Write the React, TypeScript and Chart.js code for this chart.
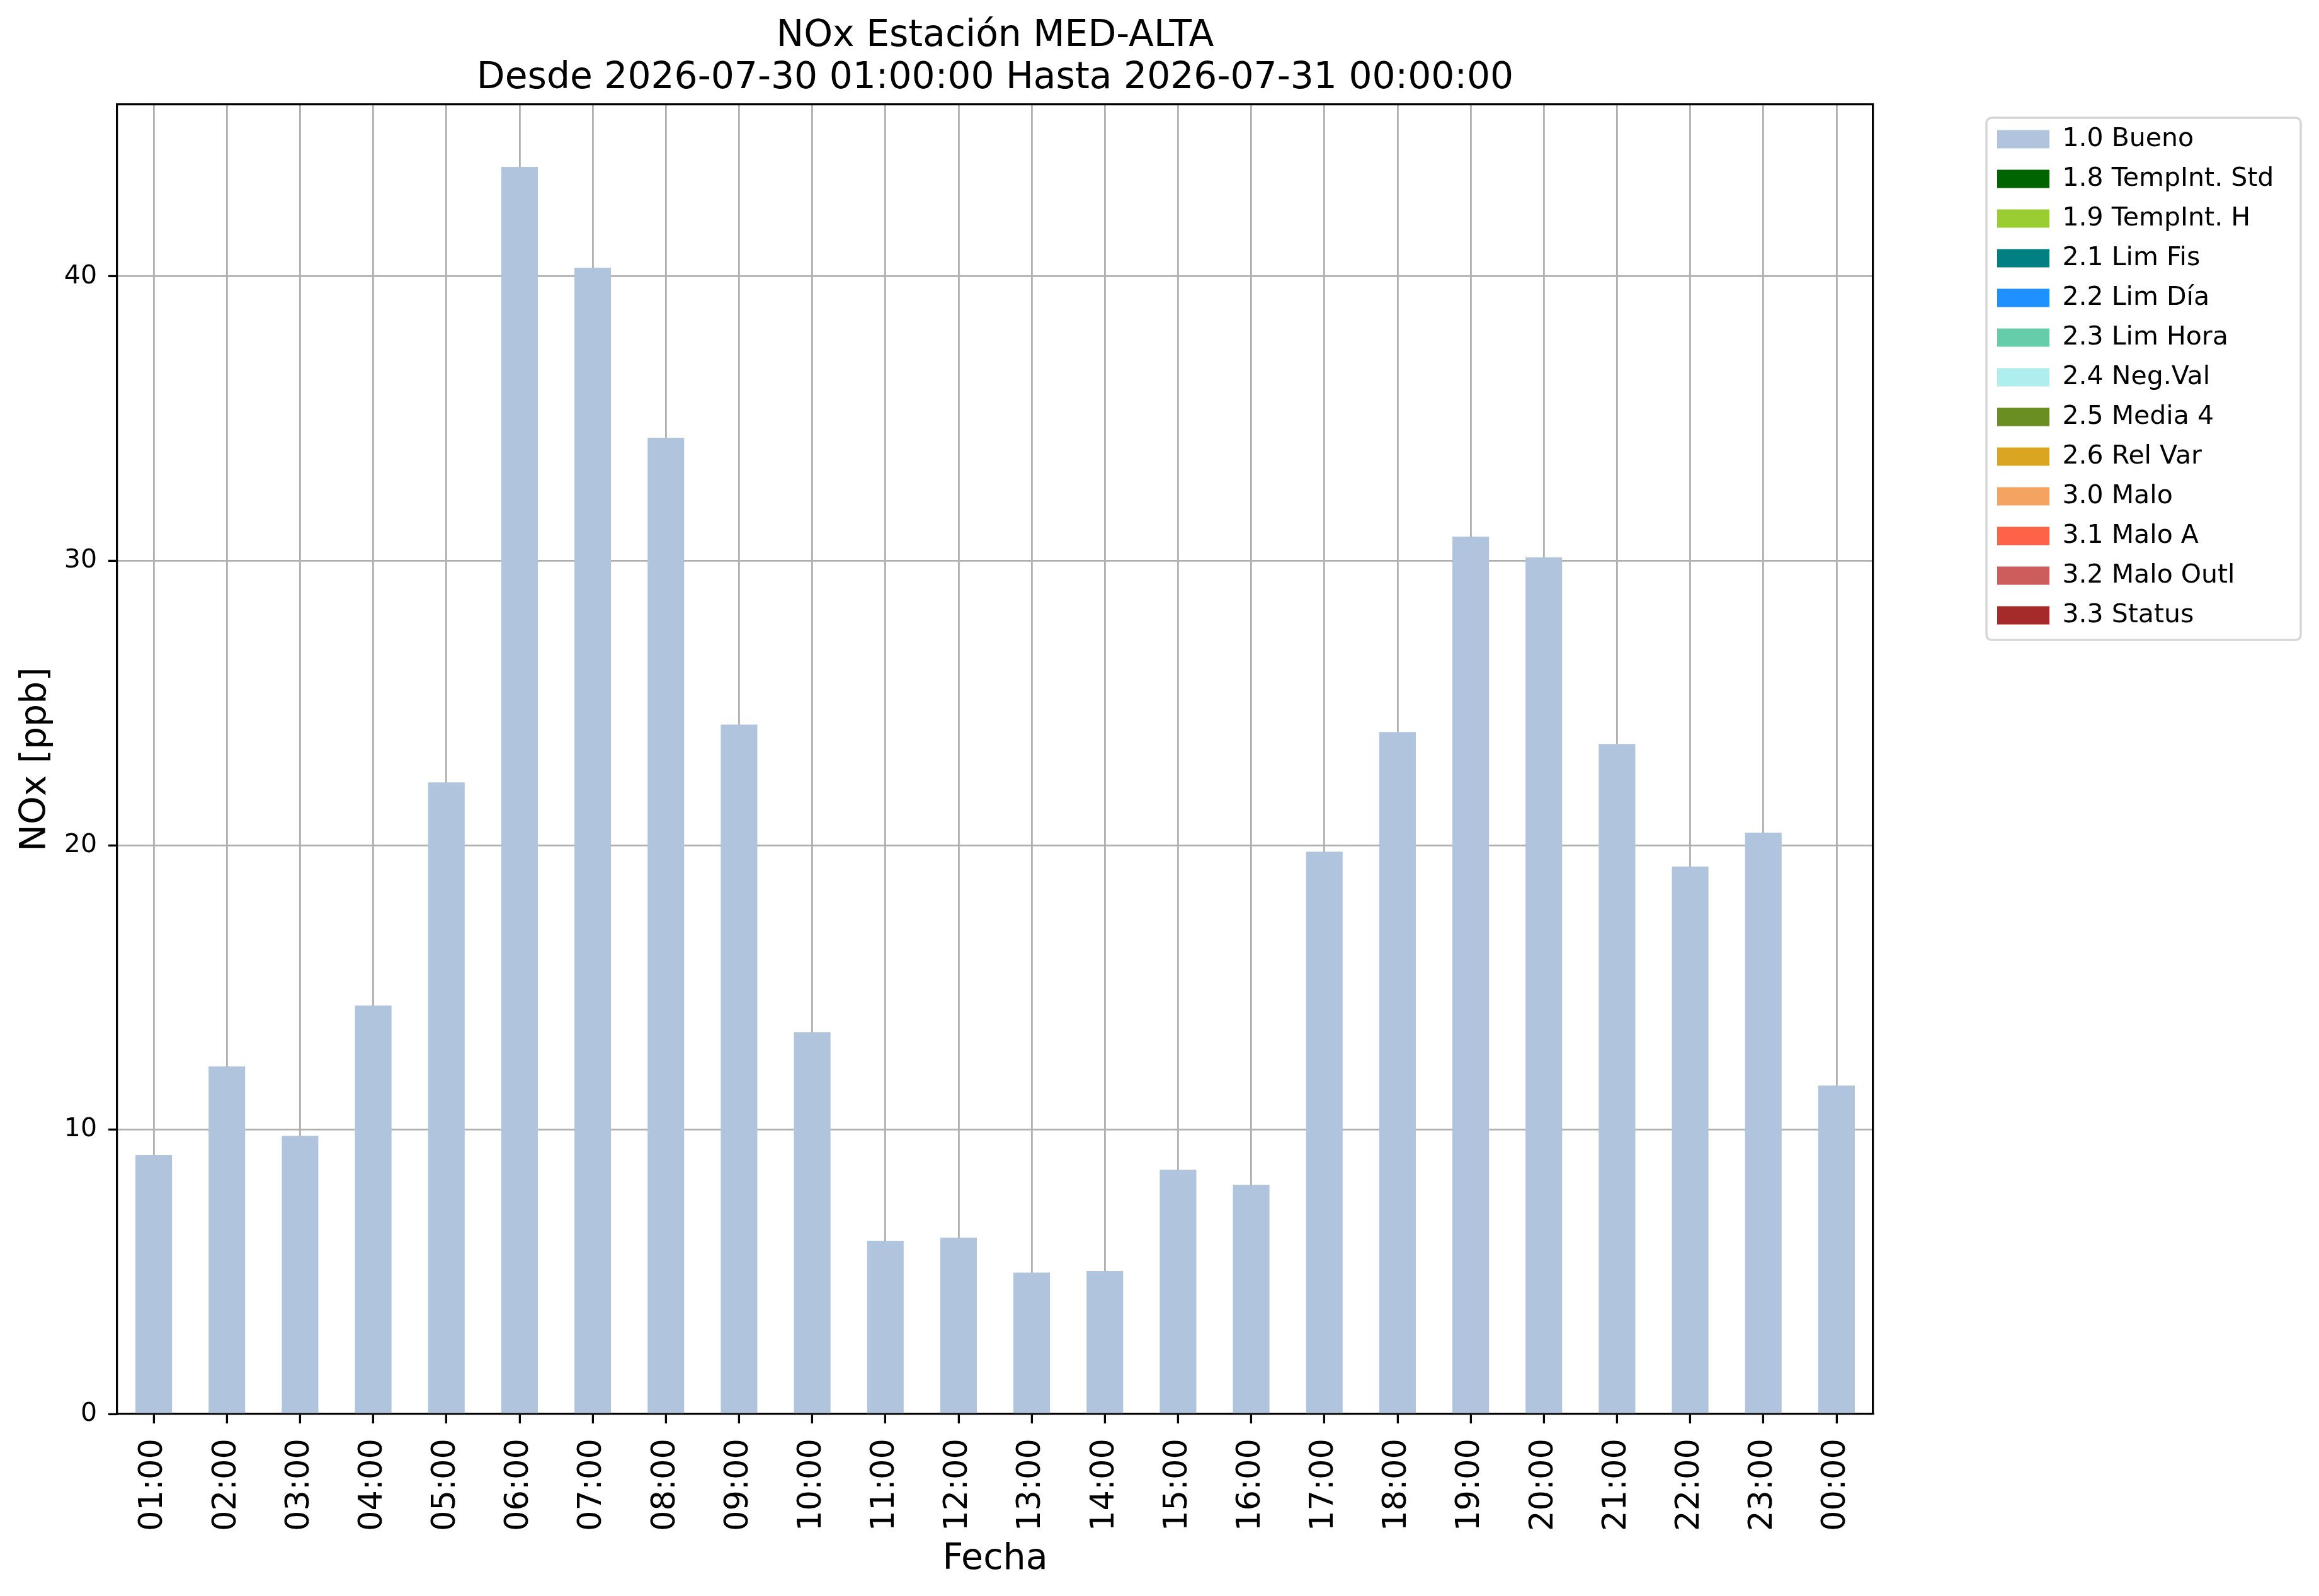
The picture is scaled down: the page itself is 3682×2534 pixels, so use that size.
import { useEffect, useRef } from 'react';
import { Chart, registerables } from 'chart.js';

Chart.register(...registerables);

const W = 3682;
const H = 2534;
const FONT = "'DejaVu Sans', sans-serif";

// hourly NOx, 2026-07-30 01:00 .. 2026-07-31 00:00
const hours = [
  '01:00', '02:00', '03:00', '04:00', '05:00', '06:00', '07:00', '08:00',
  '09:00', '10:00', '11:00', '12:00', '13:00', '14:00', '15:00', '16:00',
  '17:00', '18:00', '19:00', '20:00', '21:00', '22:00', '23:00', '00:00',
];
const nox = [
  9.1, 12.22, 9.78, 14.36, 22.21, 43.85, 40.31, 34.33,
  24.24, 13.42, 6.09, 6.2, 4.97, 5.03, 8.59, 8.06,
  19.77, 23.98, 30.85, 30.12, 23.56, 19.25, 20.44, 11.55,
];

// validation flags; only "1.0 Bueno" has hours in this window
const flagLabels = [
  '1.0 Bueno', '1.8 TempInt. Std', '1.9 TempInt. H', '2.1 Lim Fis', '2.2 Lim Día',
  '2.3 Lim Hora', '2.4 Neg.Val', '2.5 Media 4', '2.6 Rel Var', '3.0 Malo',
  '3.1 Malo A', '3.2 Malo Outl', '3.3 Status',
];
const flagColors = [
  '#b0c4de', '#006400', '#9acd32', '#008080', '#1e90ff',
  '#66cdaa', '#afeeee', '#6b8e23', '#daa520', '#f4a460',
  '#ff6347', '#cd5c5c', '#a52a2a',
];

const titleLines = ['NOx Estación MED-ALTA', 'Desde 2026-07-30 01:00:00 Hasta 2026-07-31 00:00:00'];

// layout (px)
const PLOT_RIGHT = 2974;
const GAP_RIGHT = 175;
const LEGEND_FONT = 41;
const LEGEND_BOX_W = 83;
const LEGEND_PAD = 22;

// matplotlib-like rounded frame around the legend
const legendFrame = {
  id: 'legendFrame',
  afterDraw(chart: any) {
    const lg = chart.legend;
    if (!lg) return;
    const { ctx } = chart;
    ctx.save();
    ctx.strokeStyle = '#d6d6d6';
    ctx.lineWidth = 3.5;
    ctx.beginPath();
    ctx.roundRect(lg.left + 5, lg.top + 21, 499, 829, 8);
    ctx.stroke();
    ctx.restore();
  },
};

const spine = { color: '#000', width: 3.3 };

export default function App() {
  const canvasRef = useRef<HTMLCanvasElement>(null);

  useEffect(() => {
    if (!canvasRef.current) return undefined;
    Chart.defaults.font.family = FONT;
    Chart.defaults.color = '#000';

    // legend width as Chart.js will compute it, so the plot keeps its right edge
    const mctx = canvasRef.current.getContext('2d')!;
    mctx.font = `normal ${LEGEND_FONT}px ${FONT}`;
    const textW = Math.max(...flagLabels.map(t => mctx.measureText(t).width));
    const legendW = LEGEND_PAD + LEGEND_BOX_W + LEGEND_FONT / 2 + textW + 10;
    const padRight = Math.max(0, W - PLOT_RIGHT - GAP_RIGHT - legendW);

    const chart = new Chart(canvasRef.current, {
      type: 'bar',
      data: {
        labels: hours,
        datasets: flagLabels.map((label, i) => ({
          label,
          data: i === 0 ? nox : [],
          backgroundColor: flagColors[i],
          borderWidth: 0,
          grouped: false,
          barPercentage: 0.5,
          categoryPercentage: 1,
          xAxisID: 'x',
          yAxisID: 'y',
        })),
      },
      options: {
        responsive: false,
        devicePixelRatio: 1,
        animation: false,
        layout: { padding: { left: 0, top: 0, right: padRight, bottom: 0 } },
        plugins: {
          tooltip: { enabled: false },
          title: {
            display: true,
            text: titleLines,
            fullSize: false,
            color: '#000',
            font: { family: FONT, size: 58.3, weight: 'normal', lineHeight: 66.67 / 58.3 },
            padding: { top: 24.7, bottom: 8 },
          },
          legend: {
            position: 'right',
            align: 'start',
            fullSize: false,
            title: { display: true, text: '', font: { size: 1, lineHeight: 1 }, padding: { top: 11.5, bottom: 0 } },
            labels: {
              boxWidth: LEGEND_BOX_W,
              boxHeight: 29,
              padding: LEGEND_PAD,
              color: '#000',
              font: { family: FONT, size: LEGEND_FONT },
            },
          },
        },
        scales: {
          x: {
            type: 'category',
            position: 'bottom',
            offset: true,
            z: 1,
            grid: { offset: false, color: '#b0b0b0', lineWidth: 2.8, tickLength: 15, tickColor: '#000', tickWidth: 3.3 },
            border: spine,
            ticks: {
              autoSkip: false,
              minRotation: 90,
              maxRotation: 90,
              padding: 24,
              color: '#000',
              font: { family: FONT, size: 51 },
            },
            title: { display: true, text: 'Fecha', color: '#000', font: { family: FONT, size: 57 }, padding: { top: 0, bottom: 24 } },
            afterFit: (s: any) => { s.height = 289; },
          },
          y: {
            type: 'linear',
            position: 'left',
            min: 0,
            max: Math.max(...nox) * 1.05,
            z: 1,
            grid: {
              color: (c: any) => (c.tick && c.tick.value === 0 ? 'rgba(0,0,0,0)' : '#b0b0b0'),
              lineWidth: 2.8,
              tickLength: 14,
              tickColor: '#000',
              tickWidth: 3.3,
            },
            border: spine,
            ticks: { stepSize: 10, includeBounds: false, padding: 18, color: '#000', font: { family: FONT, size: 41 } },
            title: { display: true, text: 'NOx [ppb]', color: '#000', font: { family: FONT, size: 57 }, padding: { top: 23, bottom: 0 } },
            afterFit: (s: any) => { s.width = 186; },
          },
          y2: {
            type: 'linear',
            position: 'right',
            z: 1,
            grid: { display: false },
            ticks: { display: false },
            border: spine,
            afterFit: (s: any) => { s.width = GAP_RIGHT; },
          },
          x2: {
            type: 'category',
            position: 'top',
            z: 1,
            grid: { display: false },
            ticks: { display: false },
            border: spine,
            afterFit: (s: any) => { s.height = 0; },
          },
        },
      },
      plugins: [legendFrame],
    });

    return () => chart.destroy();
  }, []);

  return (
    <canvas
      ref={canvasRef}
      width={W}
      height={H}
      style={{ position: 'fixed', left: 0, top: 0, width: W, height: H }}
    />
  );
}
